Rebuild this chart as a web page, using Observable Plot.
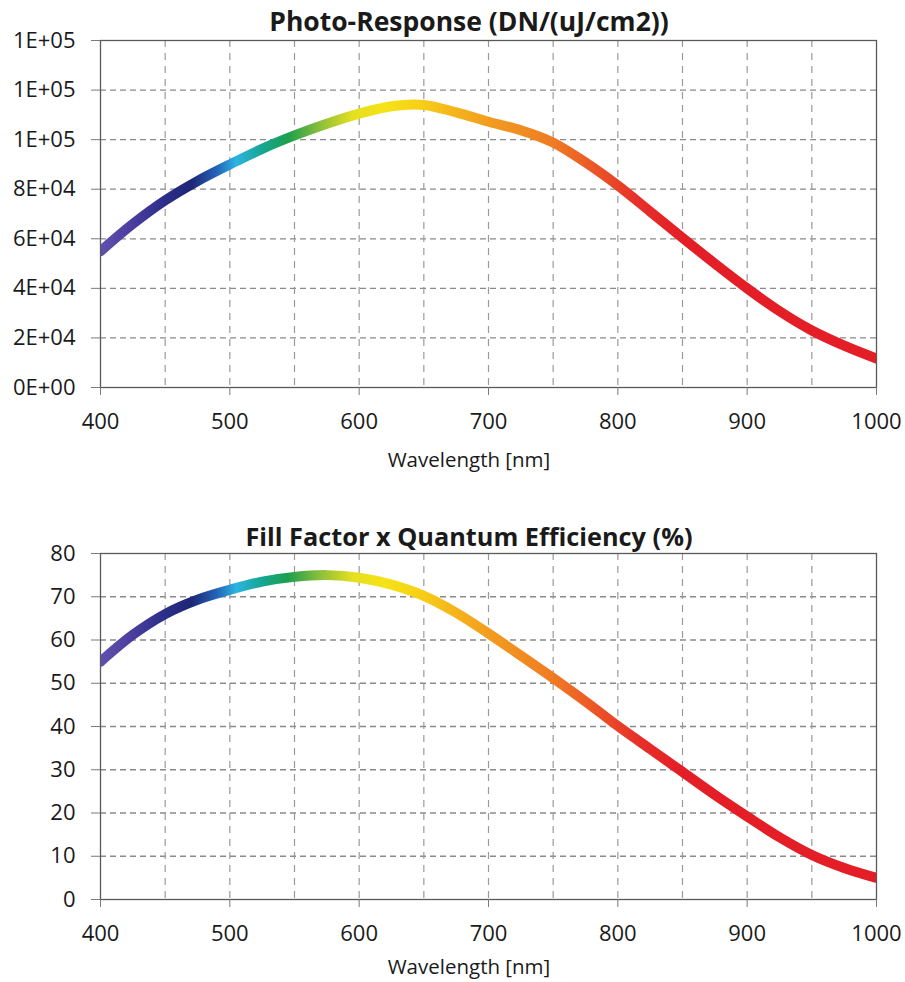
<!DOCTYPE html>
<html>
<head>
<meta charset="utf-8">
<script src="https://cdn.jsdelivr.net/npm/d3@7"></script>
<script src="https://cdn.jsdelivr.net/npm/@observablehq/plot@0.6"></script>
<style>
  html, body { margin: 0; padding: 0; background: #fff; }
  #wrap { position: relative; width: 905px; height: 982px; font-family: 'Open Sans', sans-serif; color: #1a1a1a; overflow: hidden; }
  .title { position: absolute; transform: translateX(-50%); white-space: nowrap; font-weight: 700; line-height: 26px; }
  .xlab { position: absolute; transform: translateX(-50%); white-space: nowrap; font-size: 20.5px; line-height: 24px; }
  .chart { position: absolute; left: 0; }
  .chart svg { overflow: visible; }
</style>
</head>
<body>
<div id="wrap">
  <div class="title" id="t1" style="left:469px; top:8px; font-size:26.5px;"></div>
  <div class="chart" id="c1" style="top:30px;"></div>
  <div class="xlab" id="l1" style="left:469px; top:447px;"></div>
  <div class="title" id="t2" style="left:469px; top:523px; font-size:25.3px;"></div>
  <div class="chart" id="c2" style="top:543px;"></div>
  <div class="xlab" id="l2" style="left:469px; top:954px;"></div>
</div>
<script>
// ---- data ----
const wavelength = [400, 425, 450, 475, 500, 525, 550, 575, 600, 625, 650, 675, 700, 725, 750, 775, 800, 825, 850, 875, 900, 925, 950, 975, 1000];
const photoResponse = [55000, 66000, 75500, 83300, 90000, 96300, 101700, 106400, 110500, 113500, 114000, 111000, 107200, 103800, 98800, 90800, 81500, 71000, 60400, 50000, 40000, 30800, 23000, 16900, 11700];
const fillFactorQE = [55.0, 61.2, 66.0, 69.3, 71.6, 73.5, 74.6, 75.0, 74.4, 72.8, 70.2, 66.3, 61.5, 56.4, 51.2, 45.8, 40.1, 34.8, 29.5, 24.2, 19.2, 14.4, 10.3, 7.3, 5.0];

const xTicks = [400, 500, 600, 700, 800, 900, 1000];
const xGrid = [450, 500, 550, 600, 650, 700, 750, 800, 850, 900, 950];
const yTicksTop = [0, 20000, 40000, 60000, 80000, 100000, 120000, 140000];
const yTickLabelsTop = ["0E+00", "2E+04", "4E+04", "6E+04", "8E+04", "1E+05", "1E+05", "1E+05"];
const yTicksBottom = [0, 10, 20, 30, 40, 50, 60, 70, 80];
const yTickLabelsBottom = ["0", "10", "20", "30", "40", "50", "60", "70", "80"];

const titleTop = "Photo-Response (DN/(uJ/cm2))";
const titleBottom = "Fill Factor x Quantum Efficiency (%)";
const xLabel = "Wavelength [nm]";

// spectrum colour stops (wavelength -> colour)
const stopWavelengths = [400, 425, 450, 470, 490, 505, 525, 545, 570, 595, 620, 645, 670, 700, 750, 785, 815, 850, 1000];
const stopColors = ["#6150ae", "#4a3d9e", "#2b2e88", "#1e2676", "#2464b8", "#2cb4e2", "#16a692", "#1d9f4c", "#8cc03a", "#e6df20", "#f6e218", "#f7d116", "#f5b81a", "#f29d1f", "#ef7b23", "#eb5226", "#e6302a", "#e41e26", "#e41e26"];

// ---- build ----
function build(containerId, values, yTicks, yLabels, gradId, plotHeight) {
  const data = wavelength.map((w, i) => ({w, v: values[i]}));
  const plot = Plot.plot({
    width: 905,
    height: 10 + plotHeight + 45,
    marginLeft: 100,
    marginRight: 29,
    marginTop: 10,
    marginBottom: 45,
    style: {fontFamily: "'Open Sans', sans-serif", fontSize: "22px", color: "#1a1a1a", background: "transparent", overflow: "visible"},
    x: {domain: [400, 1000]},
    y: {domain: [yTicks[0], yTicks[yTicks.length - 1]]},
    marks: [
      Plot.gridY(yTicks.slice(1, -1), {stroke: "#8a8a8a", strokeOpacity: 1, strokeWidth: 1.3, strokeDasharray: "6,4"}),
      Plot.gridX(xGrid, {stroke: "#9a9a9a", strokeOpacity: 1, strokeWidth: 1.2, strokeDasharray: "7,6"}),
      Plot.line(data, {x: "w", y: "v", stroke: `url(#${gradId})`, strokeWidth: 10, curve: "catmull-rom", clip: true}),
      Plot.frame({stroke: "#5a5a5a", strokeWidth: 1.3}),
      Plot.axisY({ticks: yTicks, tickFormat: d => yLabels[yTicks.indexOf(d)], tickSize: 9, tickPadding: 16, stroke: "#7a7a7a", fontSize: 22, label: null}),
      Plot.axisX({ticks: xTicks, tickSize: 8, tickPadding: 18, stroke: "#7a7a7a", fontSize: 22, label: null, tickFormat: d => String(d)})
    ]
  });
  // gradient along wavelength, positioned through the x scale
  const xs = plot.scale("x");
  const x1 = xs.apply(stopWavelengths[0]);
  const x2 = xs.apply(stopWavelengths[stopWavelengths.length - 1]);
  const ns = "http://www.w3.org/2000/svg";
  const defs = document.createElementNS(ns, "defs");
  const grad = document.createElementNS(ns, "linearGradient");
  grad.setAttribute("id", gradId);
  grad.setAttribute("gradientUnits", "userSpaceOnUse");
  grad.setAttribute("x1", x1);
  grad.setAttribute("x2", x2);
  grad.setAttribute("y1", 0);
  grad.setAttribute("y2", 0);
  stopWavelengths.forEach((w, i) => {
    const s = document.createElementNS(ns, "stop");
    s.setAttribute("offset", (xs.apply(w) - x1) / (x2 - x1));
    s.setAttribute("stop-color", stopColors[i]);
    grad.appendChild(s);
  });
  defs.appendChild(grad);
  plot.insertBefore(defs, plot.firstChild);
  document.getElementById(containerId).appendChild(plot);
}

document.getElementById("t1").textContent = titleTop;
document.getElementById("t2").textContent = titleBottom;
document.getElementById("l1").textContent = xLabel;
document.getElementById("l2").textContent = xLabel;

build("c1", photoResponse, yTicksTop, yTickLabelsTop, "specTop", 347);
build("c2", fillFactorQE, yTicksBottom, yTickLabelsBottom, "specBottom", 346);
</script>
</body>
</html>
